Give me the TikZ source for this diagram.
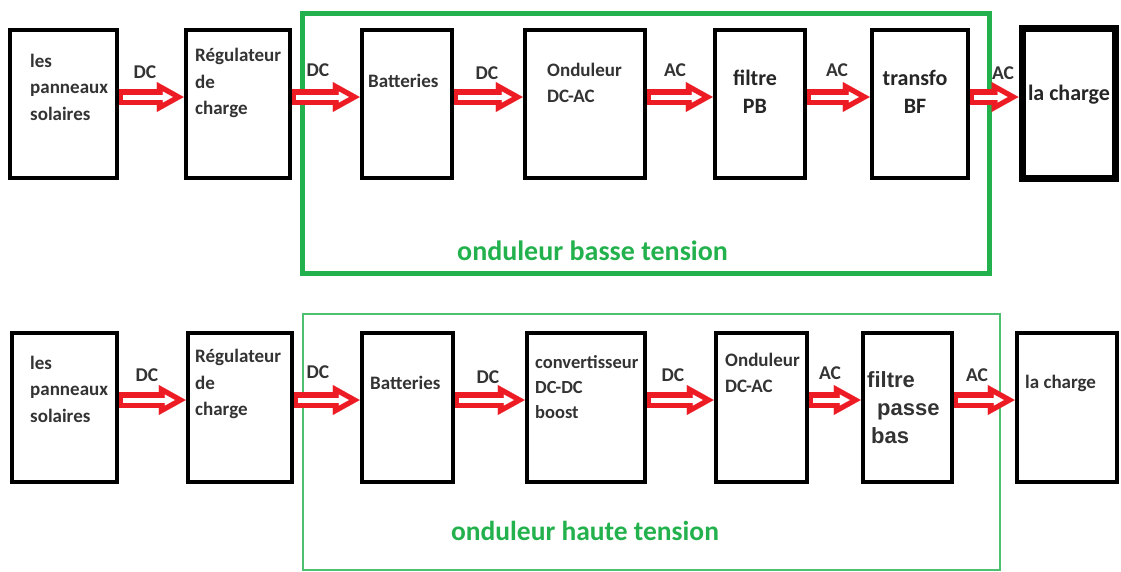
\documentclass[tikz,border=0pt]{standalone}
\usepackage{fontspec}
\setmainfont{Carlito}
\newfontfamily\arialfont{Liberation Sans}
\usetikzlibrary{arrows.meta}
\definecolor{paintgreen}{HTML}{22B14C}
\definecolor{paintred}{HTML}{ED1C24}
\tikzset{
  blocbox/.style={draw, line width=4.5pt, inner sep=0pt, minimum height=148pt},
  boxtext/.style={font=\bfseries\fontsize{19}{26.5}\selectfont, text=black!80, align=left, anchor=west, inner sep=0pt},
  bigtext/.style={font=\bfseries\fontsize{22}{28}\selectfont, text=black!85, align=center, inner sep=0pt},
  flowlabel/.style={font=\bfseries\fontsize{19.5}{22}\selectfont, text=black!80, inner sep=0pt},
  hollowarrow/.style={draw=paintred, line width=16pt, -{Triangle[length=27pt, width=30pt, line width=0.1pt]},
    postaction={draw=white, line width=5pt, -{Triangle[length=10pt, width=11pt, line width=0.1pt]}, shorten <=4pt, shorten >=11pt}},
  stageframe/.style={draw=paintgreen, inner sep=0pt},
  stagetitle/.style={font=\bfseries\fontsize{28}{32}\selectfont, text=paintgreen, anchor=base}
}

\begin{document}
\begin{tikzpicture}[x=1pt, y=-1pt]
  \useasboundingbox (0,0) rectangle (1121,571);

  % onduleur basse tension
  \node[stageframe, line width=5pt, minimum width=687pt, minimum height=260pt] (basse) at (645.5,143) {};
  \node[stagetitle] (basse-t) at (592.5,260) {onduleur basse tension};

  \node[blocbox, minimum width=107pt] (pan1) at (63.5,104) {};
  \node[blocbox, minimum width=104pt] (reg1) at (238,104) {};
  \node[blocbox, minimum width=90pt] (bat1) at (407,104) {};
  \node[blocbox, minimum width=120pt] (ond1) at (585,104) {};
  \node[blocbox, minimum width=90pt] (fil1) at (760,104) {};
  \node[blocbox, minimum width=96pt] (tra1) at (920,104) {};
  \node[blocbox, line width=7pt, minimum width=93pt, minimum height=150pt] (chg1) at (1068.5,103) {};

  \node[boxtext] (pan1-t) at (30,87) {les\\panneaux\\solaires};
  \node[boxtext] (reg1-t) at (195,83) {Régulateur\\de\\charge};
  \node[boxtext] (bat1-t) at (368,80.5) {Batteries};
  \node[boxtext] (ond1-t) at (547,83) {Onduleur\\DC-AC};
  \node[bigtext] (fil1-t) at (755,92) {filtre\\PB};
  \node[bigtext] (tra1-t) at (915,92) {transfo\\BF};
  \node[bigtext] (chg1-t) at (1069,95) {la charge};

  \draw[hollowarrow] ([yshift=7pt]pan1.east) -- ([yshift=7pt]reg1.west);
  \draw[hollowarrow] ([yshift=7pt]reg1.east) -- ([yshift=7pt]bat1.west);
  \draw[hollowarrow] ([yshift=7pt]bat1.east) -- ([yshift=7pt]ond1.west);
  \draw[hollowarrow] ([yshift=7pt]ond1.east) -- ([yshift=7pt]fil1.west);
  \draw[hollowarrow] ([yshift=7pt]fil1.east) -- ([yshift=7pt]tra1.west);
  \draw[hollowarrow] ([yshift=7pt]tra1.east) -- ([yshift=6pt]chg1.west);

  \node[flowlabel] (dc11) at (145,72) {DC};
  \node[flowlabel] (dc12) at (318,70) {DC};
  \node[flowlabel] (dc13) at (487,73) {DC};
  \node[flowlabel] (ac11) at (675,70) {AC};
  \node[flowlabel] (ac12) at (837,70) {AC};
  \node[flowlabel] (ac13) at (1003,73) {AC};

  % onduleur haute tension
  \node[stageframe, draw=paintgreen!80, line width=2pt, minimum width=697pt, minimum height=256pt] (haute) at (651.5,442) {};
  \node[stagetitle, font=\bfseries\fontsize{27.5}{32}\selectfont] (haute-t) at (585,540) {onduleur haute tension};

  \node[blocbox, minimum width=105pt, minimum height=149pt] (pan2) at (64.5,407.5) {};
  \node[blocbox, minimum width=104pt, minimum height=149pt] (reg2) at (240,407.5) {};
  \node[blocbox, minimum width=91pt, minimum height=149pt] (bat2) at (407.5,407.5) {};
  \node[blocbox, minimum width=118pt, minimum height=149pt] (cnv2) at (586,407.5) {};
  \node[blocbox, minimum width=91pt, minimum height=149pt] (ond2) at (761.5,407.5) {};
  \node[blocbox, minimum width=89pt, minimum height=149pt] (fil2) at (907.5,407.5) {};
  \node[blocbox, minimum width=100pt, minimum height=149pt] (chg2) at (1067,407.5) {};

  \node[boxtext] (pan2-t) at (30,389) {les\\panneaux\\solaires};
  \node[boxtext] (reg2-t) at (195,384) {Régulateur\\de\\charge};
  \node[boxtext] (bat2-t) at (370,383) {Batteries};
  \node[boxtext, font=\bfseries\fontsize{18.5}{25}\selectfont] (cnv2-t) at (535,387) {convertisseur\\DC-DC\\boost};
  \node[boxtext] (ond2-t) at (725,373) {Onduleur\\DC-AC};
  \node[boxtext, font=\arialfont\bfseries\fontsize{22}{28}\selectfont] (fil2-t) at (867,408) {filtre\\\hspace*{10pt}passe\\\hspace*{4pt}bas};
  \node[boxtext] (chg2-t) at (1025,383) {la charge};

  \draw[hollowarrow] ([yshift=7.5pt]pan2.east) -- ([yshift=7.5pt]reg2.west);
  \draw[hollowarrow] ([yshift=7.5pt]reg2.east) -- ([yshift=7.5pt]bat2.west);
  \draw[hollowarrow] ([yshift=7.5pt]bat2.east) -- ([yshift=7.5pt]cnv2.west);
  \draw[hollowarrow] ([yshift=7.5pt]cnv2.east) -- ([yshift=7.5pt]ond2.west);
  \draw[hollowarrow] ([yshift=7.5pt]ond2.east) -- ([yshift=7.5pt]fil2.west);
  \draw[hollowarrow] ([yshift=7.5pt]fil2.east) -- ([yshift=7.5pt]chg2.west);

  \node[flowlabel] (dc21) at (147,375) {DC};
  \node[flowlabel] (dc22) at (318,372) {DC};
  \node[flowlabel] (dc23) at (488,377) {DC};
  \node[flowlabel] (dc24) at (673,375) {DC};
  \node[flowlabel] (ac21) at (830,373) {AC};
  \node[flowlabel] (ac22) at (977,375) {AC};
\end{tikzpicture}
\end{document}
